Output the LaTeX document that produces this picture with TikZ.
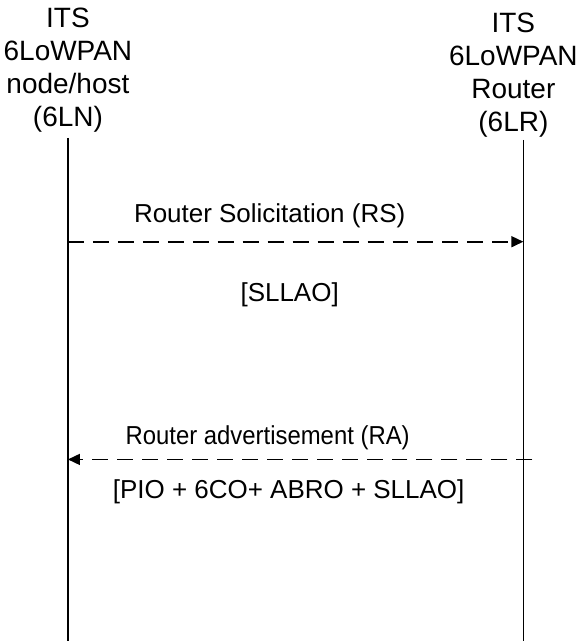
\documentclass[tikz,border=0pt]{standalone}
\usepackage{fontspec}
\setmainfont{Liberation Sans}
\usetikzlibrary{arrows.meta}

\begin{document}
\begin{tikzpicture}[x=1pt, y=-1pt,
  txt/.style={font=\fontsize{26}{32.5}\selectfont, inner sep=0pt},
  head/.style={font=\fontsize{28}{33}\selectfont, inner sep=0pt, align=center, anchor=north},
  life/.style={black, line width=1.6pt},
  msg/.style={black, line width=1.6pt, dash pattern=on 16pt off 9pt,
    -{Triangle[length=12pt, width=11pt]}}]
  \filldraw[fill=white, draw=none] (0,0) rectangle (582,642);
  \node[head] (LN) at (68,8) {ITS\\6LoWPAN\\node/host\\(6LN)};
  \node[head] (LR) at (514,13) {ITS\\6LoWPAN\\Router\\(6LR)};
  \coordinate (LNtop) at (68,138);
  \coordinate (LNbot) at (68,642);
  \coordinate (LRtop) at (524,140);
  \coordinate (LRbot) at (524,642);
  \draw[life] (LNtop) -- (LNbot);
  \draw[life] (LRtop) -- (LRbot);
  \coordinate (rsA) at (68,242);
  \coordinate (rsB) at (524,242);
  \coordinate (raA) at (533,460);
  \coordinate (raB) at (68,460);
  \draw[msg] (rsA) -- (rsB);
  \draw[msg] (raA) -- (raB);
  \node[txt] (rs) at (270,216) {Router Solicitation (RS)};
  \node[txt] (rsopt) at (290,295) {[SLLAO]};
  \node[txt, xscale=0.92] (ra) at (268,438) {Router advertisement (RA)};
  \node[txt] (raopt) at (289,492) {[PIO + 6CO+ ABRO + SLLAO]};
\end{tikzpicture}
\end{document}
